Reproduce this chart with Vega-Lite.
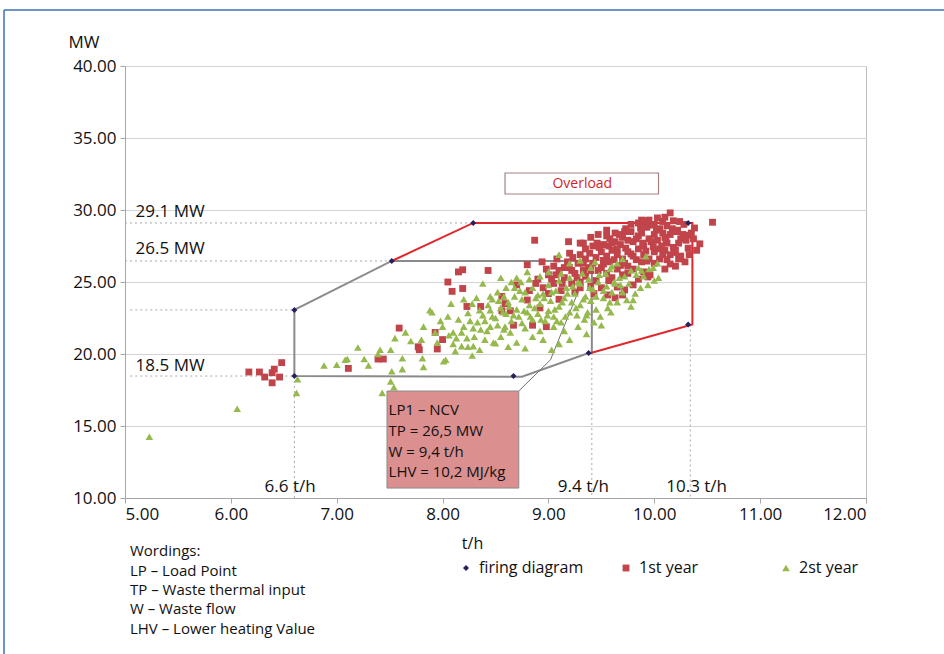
{
  "$schema": "https://vega.github.io/schema/vega-lite/v6.json",
  "width": 741,
  "height": 432,
  "autosize": {"type": "none"},
  "padding": {"left": 125, "top": 66, "right": 78, "bottom": 156},
  "background": "white",
  "config": {
    "view": {"stroke": "#bdbdbd", "strokeWidth": 1},
    "font": "Open Sans",
    "axis": {"labelFont": "Open Sans", "titleFont": "Open Sans", "labelColor": "#111", "titleColor": "#111", "titleFontWeight": "normal", "domainColor": "#a6a6a6", "tickColor": "#a6a6a6", "tickSize": 5, "labelFontSize": 17, "titleFontSize": 17}
  },
  "datasets": {
    "frame": [
      {"x": 3.857, "x2": 14.5, "y": 43.89, "y2": 43.89},
      {"x": 3.857, "x2": 3.857, "y": 43.89, "y2": -20}
    ],
    "dots": [
      {"x": 5, "x2": 8.29, "y": 29.1, "y2": 29.1},
      {"x": 5, "x2": 7.52, "y": 26.46, "y2": 26.46},
      {"x": 5.05, "x2": 6.6, "y": 23.06, "y2": 23.06},
      {"x": 5.05, "x2": 6.6, "y": 18.47, "y2": 18.47},
      {"x": 6.6, "x2": 6.6, "y": 18.47, "y2": 10},
      {"x": 9.41, "x2": 9.41, "y": 20.07, "y2": 10},
      {"x": 10.34, "x2": 10.34, "y": 22.05, "y2": 10}
    ],
    "gray": [
      {"x": 6.6, "y": 18.47, "o": 1},
      {"x": 6.6, "y": 23.06, "o": 2},
      {"x": 7.52, "y": 26.46, "o": 3},
      {"x": 9.41, "y": 26.46, "o": 4},
      {"x": 9.41, "y": 20.07, "o": 5},
      {"x": 9.38, "y": 20.07, "o": 6},
      {"x": 8.75, "y": 18.42, "o": 7},
      {"x": 6.6, "y": 18.47, "o": 8}
    ],
    "red": [
      {"x": 7.52, "y": 26.46, "o": 1},
      {"x": 8.29, "y": 29.1, "o": 2},
      {"x": 10.36, "y": 29.1, "o": 3},
      {"x": 10.36, "y": 22.05, "o": 4},
      {"x": 9.4, "y": 20.07, "o": 5}
    ],
    "pointer": [
      {"x": 8.72, "y": 17.43, "o": 1},
      {"x": 9.02, "y": 19.6, "o": 2},
      {"x": 9.39, "y": 26.3, "o": 3}
    ],
    "callout": [{"x": 7.475, "x2": 8.72, "y": 17.43, "y2": 10.69}],
    "callouttext": [
      {"x": 7.49, "y": 16.11, "t": "LP1 – NCV"},
      {"x": 7.49, "y": 14.65, "t": "TP = 26,5 MW"},
      {"x": 7.49, "y": 13.2, "t": "W = 9,4 t/h"},
      {"x": 7.49, "y": 11.78, "t": "LHV = 10,2 MJ/kg"}
    ],
    "overload": [{"x": 8.59, "x2": 10.04, "y": 32.57, "y2": 31.11}],
    "overloadtext": [{"x": 9.32, "y": 31.84, "t": "Overload"}],
    "leftlabels": [
      {"x": 5.1, "y": 29.86, "t": "29.1 MW"},
      {"x": 5.1, "y": 27.29, "t": "26.5 MW"},
      {"x": 5.1, "y": 19.17, "t": "18.5 MW"}
    ],
    "bottomlabels": [
      {"x": 6.56, "y": 10.76, "t": "6.6 t/h"},
      {"x": 9.33, "y": 10.76, "t": "9.4 t/h"},
      {"x": 10.4, "y": 10.76, "t": "10.3 t/h"}
    ],
    "wordings": [
      {"x": 5.047, "y": 6.32, "t": "Wordings:"},
      {"x": 5.047, "y": 4.93, "t": "LP – Load Point"},
      {"x": 5.047, "y": 3.6, "t": "TP – Waste thermal input"},
      {"x": 5.047, "y": 2.28, "t": "W – Waste flow"},
      {"x": 5.047, "y": 0.9, "t": "LHV – Lower heating Value"}
    ],
    "points": [
      {"x": 6.17, "y": 18.75, "s": "1st year"}, {"x": 6.27, "y": 18.75, "s": "1st year"}, {"x": 6.32, "y": 18.4, "s": "1st year"}, {"x": 6.39, "y": 18.7, "s": "1st year"}, {"x": 6.41, "y": 18.95, "s": "1st year"}, {"x": 6.46, "y": 18.4, "s": "1st year"}, {"x": 6.48, "y": 19.4, "s": "1st year"}, {"x": 6.39, "y": 18.0, "s": "1st year"},
      {"x": 7.11, "y": 19.0, "s": "1st year"}, {"x": 7.39, "y": 19.65, "s": "1st year"}, {"x": 7.44, "y": 19.65, "s": "1st year"}, {"x": 7.59, "y": 21.8, "s": "1st year"}, {"x": 7.77, "y": 20.5, "s": "1st year"}, {"x": 7.78, "y": 20.3, "s": "1st year"}, {"x": 7.95, "y": 20.35, "s": "1st year"}, {"x": 8.0, "y": 21.0, "s": "1st year"}, {"x": 7.93, "y": 21.5, "s": "1st year"},
      {"x": 8.05, "y": 25.0, "s": "1st year"}, {"x": 8.09, "y": 24.35, "s": "1st year"}, {"x": 8.15, "y": 25.7, "s": "1st year"}, {"x": 8.19, "y": 25.85, "s": "1st year"}, {"x": 8.19, "y": 24.55, "s": "1st year"}, {"x": 8.43, "y": 25.8, "s": "1st year"}, {"x": 8.87, "y": 27.9, "s": "1st year"}, {"x": 9.19, "y": 27.8, "s": "1st year"}, {"x": 9.3, "y": 27.7, "s": "1st year"},
      {"x": 8.23, "y": 23.3, "s": "1st year"}, {"x": 8.36, "y": 23.3, "s": "1st year"}, {"x": 8.56, "y": 24.0, "s": "1st year"}, {"x": 8.59, "y": 23.5, "s": "1st year"}, {"x": 8.56, "y": 23.0, "s": "1st year"}, {"x": 8.64, "y": 23.0, "s": "1st year"}, {"x": 8.7, "y": 24.8, "s": "1st year"}, {"x": 8.82, "y": 24.4, "s": "1st year"}, {"x": 8.8, "y": 26.2, "s": "1st year"}, {"x": 8.94, "y": 26.4, "s": "1st year"}, {"x": 9.08, "y": 26.6, "s": "1st year"}, {"x": 8.8, "y": 23.75, "s": "1st year"}, {"x": 8.92, "y": 23.2, "s": "1st year"}, {"x": 8.98, "y": 21.9, "s": "1st year"}, {"x": 8.85, "y": 22.0, "s": "1st year"}, {"x": 8.67, "y": 22.0, "s": "1st year"}, {"x": 9.2, "y": 27.0, "s": "1st year"}, {"x": 9.23, "y": 26.7, "s": "1st year"},
      {"x": 8.9, "y": 25.2, "s": "1st year"}, {"x": 8.95, "y": 24.6, "s": "1st year"}, {"x": 9.0, "y": 25.5, "s": "1st year"}, {"x": 9.05, "y": 24.9, "s": "1st year"}, {"x": 9.1, "y": 25.8, "s": "1st year"}, {"x": 9.12, "y": 24.4, "s": "1st year"}, {"x": 9.15, "y": 25.3, "s": "1st year"}, {"x": 9.2, "y": 26.0, "s": "1st year"}, {"x": 9.22, "y": 24.9, "s": "1st year"}, {"x": 9.25, "y": 25.6, "s": "1st year"}, {"x": 9.28, "y": 26.3, "s": "1st year"}, {"x": 9.3, "y": 25.0, "s": "1st year"}, {"x": 9.05, "y": 26.1, "s": "1st year"}, {"x": 8.98, "y": 25.9, "s": "1st year"}, {"x": 9.18, "y": 26.4, "s": "1st year"}, {"x": 9.1, "y": 23.8, "s": "1st year"}, {"x": 9.25, "y": 24.3, "s": "1st year"}, {"x": 9.0, "y": 24.2, "s": "1st year"}, {"x": 8.88, "y": 24.9, "s": "1st year"}, {"x": 9.35, "y": 25.4, "s": "1st year"}, {"x": 9.38, "y": 26.0, "s": "1st year"},
      {"x": 9.85, "y": 29.1, "s": "1st year"}, {"x": 9.95, "y": 29.3, "s": "1st year"}, {"x": 10.03, "y": 29.45, "s": "1st year"}, {"x": 10.15, "y": 29.8, "s": "1st year"}, {"x": 10.24, "y": 29.2, "s": "1st year"}, {"x": 10.55, "y": 29.15, "s": "1st year"}, {"x": 9.9, "y": 29.0, "s": "1st year"}, {"x": 10.0, "y": 29.0, "s": "1st year"}, {"x": 10.08, "y": 29.2, "s": "1st year"},
      {"x": 9.63, "y": 28.4, "s": "1st year"}, {"x": 9.72, "y": 28.5, "s": "1st year"}, {"x": 9.78, "y": 28.5, "s": "1st year"}, {"x": 9.87, "y": 28.75, "s": "1st year"}, {"x": 9.93, "y": 28.8, "s": "1st year"}, {"x": 9.98, "y": 28.95, "s": "1st year"}, {"x": 10.08, "y": 28.4, "s": "1st year"}, {"x": 10.15, "y": 28.3, "s": "1st year"}, {"x": 10.21, "y": 28.5, "s": "1st year"}, {"x": 10.22, "y": 28.6, "s": "1st year"}, {"x": 10.38, "y": 28.75, "s": "1st year"}, {"x": 10.32, "y": 28.25, "s": "1st year"}, {"x": 9.55, "y": 28.6, "s": "1st year"}, {"x": 10.05, "y": 28.7, "s": "1st year"}, {"x": 10.12, "y": 28.9, "s": "1st year"},
      {"x": 9.33, "y": 27.7, "s": "1st year"}, {"x": 9.46, "y": 27.7, "s": "1st year"}, {"x": 9.52, "y": 27.6, "s": "1st year"}, {"x": 9.6, "y": 27.7, "s": "1st year"}, {"x": 9.68, "y": 27.6, "s": "1st year"}, {"x": 9.8, "y": 27.8, "s": "1st year"}, {"x": 9.89, "y": 27.7, "s": "1st year"}, {"x": 10.03, "y": 27.9, "s": "1st year"}, {"x": 10.12, "y": 27.7, "s": "1st year"}, {"x": 10.18, "y": 27.4, "s": "1st year"}, {"x": 10.43, "y": 27.65, "s": "1st year"}, {"x": 10.32, "y": 27.35, "s": "1st year"}, {"x": 9.7, "y": 28.1, "s": "1st year"}, {"x": 9.85, "y": 28.2, "s": "1st year"}, {"x": 9.95, "y": 28.0, "s": "1st year"}, {"x": 10.0, "y": 28.3, "s": "1st year"}, {"x": 10.25, "y": 28.0, "s": "1st year"}, {"x": 9.58, "y": 28.0, "s": "1st year"}, {"x": 9.4, "y": 28.1, "s": "1st year"}, {"x": 9.75, "y": 27.9, "s": "1st year"}, {"x": 10.1, "y": 28.1, "s": "1st year"}, {"x": 9.9, "y": 27.5, "s": "1st year"}, {"x": 9.65, "y": 27.3, "s": "1st year"}, {"x": 10.07, "y": 27.5, "s": "1st year"},
      {"x": 9.39, "y": 27.0, "s": "1st year"}, {"x": 9.45, "y": 26.7, "s": "1st year"}, {"x": 9.5, "y": 27.1, "s": "1st year"}, {"x": 9.55, "y": 26.8, "s": "1st year"}, {"x": 9.6, "y": 27.2, "s": "1st year"}, {"x": 9.65, "y": 26.9, "s": "1st year"}, {"x": 9.7, "y": 26.6, "s": "1st year"}, {"x": 9.75, "y": 27.1, "s": "1st year"}, {"x": 9.8, "y": 26.8, "s": "1st year"}, {"x": 9.85, "y": 27.3, "s": "1st year"}, {"x": 9.9, "y": 26.9, "s": "1st year"}, {"x": 9.95, "y": 26.6, "s": "1st year"}, {"x": 10.0, "y": 27.1, "s": "1st year"}, {"x": 10.05, "y": 26.6, "s": "1st year"}, {"x": 10.1, "y": 27.2, "s": "1st year"}, {"x": 10.15, "y": 26.9, "s": "1st year"}, {"x": 10.2, "y": 27.2, "s": "1st year"}, {"x": 10.25, "y": 26.8, "s": "1st year"}, {"x": 10.29, "y": 26.4, "s": "1st year"}, {"x": 10.15, "y": 26.25, "s": "1st year"}, {"x": 9.35, "y": 26.6, "s": "1st year"}, {"x": 9.42, "y": 26.3, "s": "1st year"}, {"x": 9.58, "y": 26.4, "s": "1st year"}, {"x": 9.72, "y": 26.3, "s": "1st year"}, {"x": 9.88, "y": 26.4, "s": "1st year"}, {"x": 10.0, "y": 26.3, "s": "1st year"}, {"x": 9.3, "y": 26.9, "s": "1st year"}, {"x": 9.48, "y": 27.4, "s": "1st year"}, {"x": 9.62, "y": 26.55, "s": "1st year"}, {"x": 9.78, "y": 26.95, "s": "1st year"}, {"x": 9.92, "y": 27.15, "s": "1st year"}, {"x": 10.08, "y": 26.9, "s": "1st year"},
      {"x": 9.4, "y": 25.8, "s": "1st year"}, {"x": 9.5, "y": 26.0, "s": "1st year"}, {"x": 9.55, "y": 25.6, "s": "1st year"}, {"x": 9.65, "y": 25.9, "s": "1st year"}, {"x": 9.7, "y": 25.5, "s": "1st year"}, {"x": 9.8, "y": 25.9, "s": "1st year"}, {"x": 9.9, "y": 25.7, "s": "1st year"}, {"x": 9.96, "y": 25.5, "s": "1st year"}, {"x": 9.94, "y": 25.35, "s": "1st year"}, {"x": 9.75, "y": 26.1, "s": "1st year"}, {"x": 9.6, "y": 25.3, "s": "1st year"},
      {"x": 9.65, "y": 24.65, "s": "1st year"}, {"x": 9.72, "y": 24.45, "s": "1st year"}, {"x": 9.63, "y": 23.9, "s": "1st year"}, {"x": 9.8, "y": 24.8, "s": "1st year"}, {"x": 9.5, "y": 24.6, "s": "1st year"}, {"x": 9.45, "y": 25.1, "s": "1st year"},
      {"x": 9.35, "y": 27.3, "s": "1st year"}, {"x": 9.42, "y": 27.5, "s": "1st year"}, {"x": 9.52, "y": 26.5, "s": "1st year"}, {"x": 9.57, "y": 27.5, "s": "1st year"}, {"x": 9.67, "y": 28.3, "s": "1st year"}, {"x": 9.73, "y": 27.35, "s": "1st year"}, {"x": 9.83, "y": 28.0, "s": "1st year"}, {"x": 9.88, "y": 28.4, "s": "1st year"}, {"x": 9.97, "y": 27.8, "s": "1st year"}, {"x": 10.02, "y": 28.6, "s": "1st year"}, {"x": 10.11, "y": 27.95, "s": "1st year"}, {"x": 10.17, "y": 28.7, "s": "1st year"}, {"x": 10.19, "y": 27.05, "s": "1st year"}, {"x": 10.23, "y": 27.7, "s": "1st year"}, {"x": 10.27, "y": 28.3, "s": "1st year"}, {"x": 10.3, "y": 27.9, "s": "1st year"}, {"x": 10.35, "y": 28.4, "s": "1st year"}, {"x": 10.28, "y": 29.0, "s": "1st year"}, {"x": 10.18, "y": 29.25, "s": "1st year"}, {"x": 9.92, "y": 29.25, "s": "1st year"}, {"x": 9.78, "y": 29.0, "s": "1st year"}, {"x": 10.05, "y": 27.3, "s": "1st year"}, {"x": 9.93, "y": 26.45, "s": "1st year"}, {"x": 9.83, "y": 26.55, "s": "1st year"}, {"x": 9.68, "y": 26.15, "s": "1st year"}, {"x": 9.52, "y": 26.25, "s": "1st year"}, {"x": 9.47, "y": 25.8, "s": "1st year"}, {"x": 9.33, "y": 25.8, "s": "1st year"}, {"x": 9.27, "y": 25.3, "s": "1st year"}, {"x": 9.15, "y": 26.0, "s": "1st year"}, {"x": 9.07, "y": 25.5, "s": "1st year"}, {"x": 9.3, "y": 24.6, "s": "1st year"}, {"x": 9.4, "y": 24.7, "s": "1st year"}, {"x": 9.57, "y": 25.1, "s": "1st year"}, {"x": 9.75, "y": 25.6, "s": "1st year"}, {"x": 9.85, "y": 25.2, "s": "1st year"}, {"x": 10.1, "y": 25.9, "s": "1st year"}, {"x": 10.2, "y": 26.1, "s": "1st year"}, {"x": 10.23, "y": 26.6, "s": "1st year"}, {"x": 10.12, "y": 26.55, "s": "1st year"}, {"x": 9.99, "y": 27.45, "s": "1st year"}, {"x": 9.63, "y": 27.8, "s": "1st year"}, {"x": 9.55, "y": 28.2, "s": "1st year"}, {"x": 9.47, "y": 28.3, "s": "1st year"}, {"x": 9.73, "y": 28.7, "s": "1st year"}, {"x": 9.88, "y": 29.3, "s": "1st year"}, {"x": 10.1, "y": 29.5, "s": "1st year"}, {"x": 10.37, "y": 28.0, "s": "1st year"}, {"x": 10.4, "y": 27.2, "s": "1st year"}, {"x": 10.33, "y": 26.9, "s": "1st year"}, {"x": 9.03, "y": 25.2, "s": "1st year"}, {"x": 9.13, "y": 24.9, "s": "1st year"}, {"x": 9.22, "y": 25.8, "s": "1st year"}, {"x": 9.33, "y": 26.3, "s": "1st year"}, {"x": 9.43, "y": 24.2, "s": "1st year"}, {"x": 9.56, "y": 24.1, "s": "1st year"}, {"x": 9.7, "y": 24.1, "s": "1st year"},

      {"x": 5.23, "y": 14.25, "s": "2st year"}, {"x": 6.06, "y": 16.2, "s": "2st year"}, {"x": 6.62, "y": 17.3, "s": "2st year"}, {"x": 6.63, "y": 18.25, "s": "2st year"}, {"x": 6.88, "y": 19.2, "s": "2st year"}, {"x": 7.0, "y": 19.25, "s": "2st year"}, {"x": 7.1, "y": 19.65, "s": "2st year"}, {"x": 7.26, "y": 19.65, "s": "2st year"}, {"x": 7.2, "y": 20.45, "s": "2st year"}, {"x": 7.41, "y": 20.3, "s": "2st year"}, {"x": 7.51, "y": 20.3, "s": "2st year"}, {"x": 7.51, "y": 18.1, "s": "2st year"}, {"x": 7.54, "y": 17.7, "s": "2st year"}, {"x": 7.43, "y": 17.3, "s": "2st year"}, {"x": 7.08, "y": 19.6, "s": "2st year"}, {"x": 7.62, "y": 19.7, "s": "2st year"}, {"x": 7.62, "y": 18.95, "s": "2st year"}, {"x": 7.81, "y": 19.7, "s": "2st year"}, {"x": 7.82, "y": 19.1, "s": "2st year"}, {"x": 8.01, "y": 19.5, "s": "2st year"}, {"x": 7.39, "y": 20.0, "s": "2st year"}, {"x": 7.52, "y": 18.8, "s": "2st year"}, {"x": 7.55, "y": 21.1, "s": "2st year"},
      {"x": 7.88, "y": 23.05, "s": "2st year"}, {"x": 7.9, "y": 22.9, "s": "2st year"}, {"x": 7.82, "y": 21.9, "s": "2st year"}, {"x": 7.93, "y": 21.5, "s": "2st year"}, {"x": 8.0, "y": 21.9, "s": "2st year"}, {"x": 7.8, "y": 21.0, "s": "2st year"},
      {"x": 8.05, "y": 22.6, "s": "2st year"}, {"x": 8.1, "y": 21.5, "s": "2st year"}, {"x": 8.18, "y": 21.5, "s": "2st year"}, {"x": 8.29, "y": 21.8, "s": "2st year"}, {"x": 8.23, "y": 21.1, "s": "2st year"}, {"x": 8.3, "y": 21.2, "s": "2st year"}, {"x": 8.1, "y": 20.7, "s": "2st year"}, {"x": 8.18, "y": 20.55, "s": "2st year"}, {"x": 8.24, "y": 20.5, "s": "2st year"}, {"x": 8.29, "y": 20.55, "s": "2st year"}, {"x": 8.28, "y": 19.9, "s": "2st year"}, {"x": 8.03, "y": 19.6, "s": "2st year"}, {"x": 8.48, "y": 20.8, "s": "2st year"}, {"x": 8.5, "y": 20.75, "s": "2st year"}, {"x": 8.7, "y": 20.8, "s": "2st year"}, {"x": 8.95, "y": 21.0, "s": "2st year"}, {"x": 9.03, "y": 20.3, "s": "2st year"}, {"x": 8.38, "y": 24.9, "s": "2st year"}, {"x": 8.8, "y": 25.7, "s": "2st year"}, {"x": 9.1, "y": 26.9, "s": "2st year"}, {"x": 8.24, "y": 22.85, "s": "2st year"}, {"x": 8.35, "y": 23.05, "s": "2st year"}, {"x": 8.45, "y": 23.05, "s": "2st year"}, {"x": 8.45, "y": 21.9, "s": "2st year"}, {"x": 8.59, "y": 21.9, "s": "2st year"}, {"x": 8.75, "y": 22.15, "s": "2st year"},
      {"x": 8.5, "y": 22.5, "s": "2st year"}, {"x": 8.55, "y": 23.2, "s": "2st year"}, {"x": 8.6, "y": 22.8, "s": "2st year"}, {"x": 8.62, "y": 23.6, "s": "2st year"}, {"x": 8.65, "y": 22.3, "s": "2st year"}, {"x": 8.68, "y": 24.0, "s": "2st year"}, {"x": 8.7, "y": 23.1, "s": "2st year"}, {"x": 8.72, "y": 22.6, "s": "2st year"}, {"x": 8.75, "y": 23.8, "s": "2st year"}, {"x": 8.78, "y": 24.3, "s": "2st year"}, {"x": 8.8, "y": 22.9, "s": "2st year"}, {"x": 8.82, "y": 23.4, "s": "2st year"}, {"x": 8.85, "y": 22.4, "s": "2st year"}, {"x": 8.85, "y": 24.6, "s": "2st year"}, {"x": 8.88, "y": 23.9, "s": "2st year"}, {"x": 8.9, "y": 22.8, "s": "2st year"}, {"x": 8.92, "y": 23.5, "s": "2st year"}, {"x": 8.95, "y": 24.2, "s": "2st year"}, {"x": 8.97, "y": 22.3, "s": "2st year"}, {"x": 9.0, "y": 23.0, "s": "2st year"}, {"x": 9.0, "y": 24.8, "s": "2st year"}, {"x": 9.02, "y": 23.7, "s": "2st year"}, {"x": 9.05, "y": 22.6, "s": "2st year"}, {"x": 9.07, "y": 24.4, "s": "2st year"}, {"x": 9.1, "y": 23.3, "s": "2st year"}, {"x": 9.1, "y": 25.1, "s": "2st year"}, {"x": 9.12, "y": 22.2, "s": "2st year"}, {"x": 9.15, "y": 23.9, "s": "2st year"}, {"x": 9.17, "y": 24.6, "s": "2st year"}, {"x": 9.2, "y": 22.9, "s": "2st year"}, {"x": 9.2, "y": 25.3, "s": "2st year"}, {"x": 9.22, "y": 23.6, "s": "2st year"}, {"x": 9.25, "y": 24.2, "s": "2st year"}, {"x": 9.27, "y": 22.7, "s": "2st year"}, {"x": 9.3, "y": 24.9, "s": "2st year"}, {"x": 9.3, "y": 23.4, "s": "2st year"}, {"x": 9.32, "y": 25.6, "s": "2st year"}, {"x": 9.35, "y": 24.0, "s": "2st year"}, {"x": 9.37, "y": 22.9, "s": "2st year"}, {"x": 9.38, "y": 25.2, "s": "2st year"}, {"x": 9.4, "y": 23.7, "s": "2st year"}, {"x": 9.4, "y": 26.0, "s": "2st year"}, {"x": 9.42, "y": 24.5, "s": "2st year"},
      {"x": 8.58, "y": 21.7, "s": "2st year"}, {"x": 8.64, "y": 21.5, "s": "2st year"}, {"x": 8.78, "y": 21.8, "s": "2st year"}, {"x": 8.92, "y": 21.6, "s": "2st year"}, {"x": 9.05, "y": 21.9, "s": "2st year"}, {"x": 9.15, "y": 21.6, "s": "2st year"}, {"x": 9.28, "y": 21.9, "s": "2st year"}, {"x": 9.36, "y": 21.4, "s": "2st year"}, {"x": 9.2, "y": 21.0, "s": "2st year"}, {"x": 9.1, "y": 20.7, "s": "2st year"}, {"x": 8.85, "y": 21.2, "s": "2st year"},
      {"x": 8.4, "y": 22.3, "s": "2st year"}, {"x": 8.42, "y": 21.6, "s": "2st year"}, {"x": 8.47, "y": 23.8, "s": "2st year"}, {"x": 8.52, "y": 24.3, "s": "2st year"}, {"x": 8.6, "y": 24.6, "s": "2st year"}, {"x": 8.65, "y": 25.0, "s": "2st year"}, {"x": 8.7, "y": 25.3, "s": "2st year"}, {"x": 8.38, "y": 22.7, "s": "2st year"}, {"x": 8.33, "y": 22.2, "s": "2st year"},
      {"x": 9.45, "y": 23.1, "s": "2st year"}, {"x": 9.49, "y": 22.6, "s": "2st year"}, {"x": 9.52, "y": 23.9, "s": "2st year"}, {"x": 9.56, "y": 23.2, "s": "2st year"}, {"x": 9.6, "y": 24.3, "s": "2st year"}, {"x": 9.65, "y": 23.6, "s": "2st year"}, {"x": 9.62, "y": 25.0, "s": "2st year"}, {"x": 9.68, "y": 24.8, "s": "2st year"}, {"x": 9.74, "y": 23.75, "s": "2st year"}, {"x": 9.8, "y": 23.75, "s": "2st year"}, {"x": 9.72, "y": 25.4, "s": "2st year"}, {"x": 9.78, "y": 25.8, "s": "2st year"}, {"x": 9.85, "y": 26.0, "s": "2st year"}, {"x": 9.87, "y": 24.6, "s": "2st year"}, {"x": 9.94, "y": 24.8, "s": "2st year"}, {"x": 10.03, "y": 26.3, "s": "2st year"}, {"x": 10.04, "y": 25.3, "s": "2st year"}, {"x": 9.99, "y": 26.0, "s": "2st year"}, {"x": 9.9, "y": 25.4, "s": "2st year"}, {"x": 9.82, "y": 24.2, "s": "2st year"}, {"x": 9.55, "y": 24.7, "s": "2st year"}, {"x": 9.48, "y": 25.5, "s": "2st year"}, {"x": 9.58, "y": 25.9, "s": "2st year"}, {"x": 9.65, "y": 26.3, "s": "2st year"}, {"x": 9.36, "y": 22.7, "s": "2st year"}, {"x": 9.5, "y": 22.0, "s": "2st year"}, {"x": 9.44, "y": 26.4, "s": "2st year"}, {"x": 9.7, "y": 26.6, "s": "2st year"}, {"x": 9.92, "y": 26.8, "s": "2st year"}, {"x": 9.6, "y": 26.1, "s": "2st year"},
      {"x": 8.08, "y": 23.5, "s": "2st year"}, {"x": 8.15, "y": 22.4, "s": "2st year"}, {"x": 8.2, "y": 23.8, "s": "2st year"}, {"x": 8.28, "y": 23.5, "s": "2st year"}, {"x": 8.12, "y": 20.2, "s": "2st year"}, {"x": 8.35, "y": 20.3, "s": "2st year"}, {"x": 8.4, "y": 21.0, "s": "2st year"}, {"x": 8.55, "y": 21.2, "s": "2st year"}, {"x": 8.62, "y": 20.5, "s": "2st year"}, {"x": 8.78, "y": 20.4, "s": "2st year"}, {"x": 7.98, "y": 22.3, "s": "2st year"}, {"x": 8.45, "y": 24.0, "s": "2st year"}, {"x": 8.55, "y": 25.3, "s": "2st year"},
      {"x": 8.52, "y": 22.0, "s": "2st year"}, {"x": 8.57, "y": 22.9, "s": "2st year"}, {"x": 8.63, "y": 23.3, "s": "2st year"}, {"x": 8.67, "y": 22.7, "s": "2st year"}, {"x": 8.73, "y": 24.4, "s": "2st year"}, {"x": 8.77, "y": 23.0, "s": "2st year"}, {"x": 8.83, "y": 22.6, "s": "2st year"}, {"x": 8.87, "y": 23.2, "s": "2st year"}, {"x": 8.9, "y": 24.1, "s": "2st year"}, {"x": 8.93, "y": 22.4, "s": "2st year"}, {"x": 8.96, "y": 23.9, "s": "2st year"}, {"x": 8.99, "y": 22.7, "s": "2st year"}, {"x": 9.03, "y": 24.3, "s": "2st year"}, {"x": 9.06, "y": 23.1, "s": "2st year"}, {"x": 9.08, "y": 22.3, "s": "2st year"}, {"x": 9.13, "y": 23.6, "s": "2st year"}, {"x": 9.16, "y": 22.6, "s": "2st year"}, {"x": 9.18, "y": 24.2, "s": "2st year"}, {"x": 9.23, "y": 24.7, "s": "2st year"}, {"x": 9.26, "y": 23.2, "s": "2st year"}, {"x": 9.28, "y": 25.0, "s": "2st year"}, {"x": 9.33, "y": 23.8, "s": "2st year"}, {"x": 9.34, "y": 22.4, "s": "2st year"}, {"x": 9.39, "y": 24.6, "s": "2st year"}, {"x": 9.45, "y": 24.0, "s": "2st year"}, {"x": 9.47, "y": 25.0, "s": "2st year"}, {"x": 9.52, "y": 24.4, "s": "2st year"}, {"x": 9.54, "y": 25.6, "s": "2st year"}, {"x": 9.58, "y": 23.6, "s": "2st year"}, {"x": 9.63, "y": 24.9, "s": "2st year"}, {"x": 9.67, "y": 25.3, "s": "2st year"}, {"x": 9.7, "y": 24.3, "s": "2st year"}, {"x": 9.76, "y": 24.9, "s": "2st year"}, {"x": 9.83, "y": 25.5, "s": "2st year"}, {"x": 9.88, "y": 25.8, "s": "2st year"}, {"x": 9.95, "y": 25.9, "s": "2st year"}, {"x": 10.0, "y": 25.1, "s": "2st year"}, {"x": 9.78, "y": 23.3, "s": "2st year"}, {"x": 9.59, "y": 22.9, "s": "2st year"}, {"x": 9.43, "y": 22.2, "s": "2st year"}, {"x": 8.47, "y": 22.6, "s": "2st year"}, {"x": 8.43, "y": 23.4, "s": "2st year"}, {"x": 8.36, "y": 21.7, "s": "2st year"}, {"x": 8.32, "y": 23.9, "s": "2st year"}, {"x": 8.26, "y": 22.3, "s": "2st year"}, {"x": 8.53, "y": 23.7, "s": "2st year"}, {"x": 8.58, "y": 24.0, "s": "2st year"}, {"x": 8.68, "y": 24.6, "s": "2st year"}, {"x": 8.74, "y": 25.0, "s": "2st year"}, {"x": 8.82, "y": 25.2, "s": "2st year"}, {"x": 8.92, "y": 25.4, "s": "2st year"}, {"x": 9.0, "y": 25.7, "s": "2st year"}, {"x": 9.12, "y": 25.6, "s": "2st year"}, {"x": 9.2, "y": 26.3, "s": "2st year"}, {"x": 9.3, "y": 26.5, "s": "2st year"}, {"x": 8.2, "y": 21.9, "s": "2st year"}, {"x": 8.13, "y": 21.1, "s": "2st year"}, {"x": 8.06, "y": 21.3, "s": "2st year"}, {"x": 7.95, "y": 20.8, "s": "2st year"}, {"x": 7.7, "y": 20.9, "s": "2st year"}, {"x": 7.65, "y": 21.5, "s": "2st year"}, {"x": 7.3, "y": 19.2, "s": "2st year"},

      {"x": 6.6, "y": 23.06, "s": "firing diagram"}, {"x": 6.6, "y": 18.47, "s": "firing diagram"}, {"x": 7.52, "y": 26.46, "s": "firing diagram"}, {"x": 8.29, "y": 29.1, "s": "firing diagram"}, {"x": 10.32, "y": 29.1, "s": "firing diagram"}, {"x": 10.32, "y": 22.05, "s": "firing diagram"}, {"x": 9.38, "y": 20.07, "s": "firing diagram"}, {"x": 8.67, "y": 18.47, "s": "firing diagram"}
    ]
  },
  "encoding": {
    "x": {"field": "x", "type": "quantitative",
      "scale": {"domain": [5, 12], "nice": false, "zero": false},
      "axis": {"values": [5, 6, 7, 8, 9, 10, 11, 12], "format": ".2f", "grid": false, "labelPadding": 3, "labelFontSize": 17,
        "title": "t/h", "titleX": 347, "titleY": 45, "titleBaseline": "middle", "titleAnchor": "start", "titleAlign": "center", "titleFontSize": 16}},
    "y": {"field": "y", "type": "quantitative",
      "scale": {"domain": [10, 40], "nice": false, "zero": false},
      "axis": {"values": [10, 15, 20, 25, 30, 35, 40], "format": ".2f", "grid": true, "gridColor": "#d4d4d4", "labelPadding": 4, "labelFontSize": 17,
        "title": "MW", "titleAngle": 0, "titleX": -57, "titleY": -24, "titleAlign": "left", "titleBaseline": "middle", "titleAnchor": "start", "titleFontSize": 17}}
  },
  "layer": [
    {"data": {"name": "frame"}, "mark": {"type": "rule", "color": "#3d72b8", "strokeWidth": 1.5, "clip": false},
      "encoding": {"x2": {"field": "x2"}, "y2": {"field": "y2"}}},
    {"data": {"name": "dots"}, "mark": {"type": "rule", "color": "#a8a8a8", "strokeWidth": 1, "strokeDash": [2, 3]},
      "encoding": {"x2": {"field": "x2"}, "y2": {"field": "y2"}}},
    {"data": {"name": "gray"}, "mark": {"type": "line", "color": "#8a8a8a", "strokeWidth": 2},
      "encoding": {"order": {"field": "o"}}},
    {"data": {"name": "red"}, "mark": {"type": "line", "color": "#e3262b", "strokeWidth": 2},
      "encoding": {"order": {"field": "o"}}},
    {"data": {"name": "pointer"}, "mark": {"type": "line", "color": "#707070", "strokeWidth": 1},
      "encoding": {"order": {"field": "o"}}},
    {"data": {"name": "points"},
      "mark": {"type": "point", "filled": true, "opacity": 1, "strokeWidth": 0},
      "encoding": {
        "color": {"field": "s", "type": "nominal",
          "scale": {"domain": ["firing diagram", "1st year", "2st year"], "range": ["#252060", "#c0444a", "#96b94e"]},
          "legend": {"title": null, "orient": "none", "legendX": 333, "legendY": 494, "direction": "horizontal", "columns": 3, "gridAlign": "all", "columnPadding": 34,
            "labelFont": "Open Sans", "labelFontSize": 16, "labelColor": "#111", "labelOffset": 5, "padding": 0, "symbolStrokeWidth": 0}},
        "shape": {"field": "s", "type": "nominal",
          "scale": {"domain": ["firing diagram", "1st year", "2st year"], "range": ["diamond", "square", "triangle-up"]}},
        "size": {"field": "s", "type": "nominal",
          "scale": {"domain": ["firing diagram", "1st year", "2st year"], "range": [36, 58, 48]}}
      }},
    {"data": {"name": "callout"}, "mark": {"type": "rect", "fill": "#db8f8f", "stroke": "#8a8a8a", "strokeWidth": 1},
      "encoding": {"x2": {"field": "x2"}, "y2": {"field": "y2"}}},
    {"data": {"name": "callouttext"}, "mark": {"type": "text", "align": "left", "baseline": "middle", "font": "Open Sans", "fontSize": 15, "color": "#111"},
      "encoding": {"text": {"field": "t"}}},
    {"data": {"name": "overload"}, "mark": {"type": "rect", "fill": "white", "stroke": "#a58080", "strokeWidth": 1.2},
      "encoding": {"x2": {"field": "x2"}, "y2": {"field": "y2"}}},
    {"data": {"name": "overloadtext"}, "mark": {"type": "text", "align": "center", "baseline": "middle", "font": "Open Sans", "fontSize": 14, "color": "#d41f26"},
      "encoding": {"text": {"field": "t"}}},
    {"data": {"name": "leftlabels"}, "mark": {"type": "text", "align": "left", "baseline": "middle", "font": "Open Sans", "fontSize": 17, "color": "#111"},
      "encoding": {"text": {"field": "t"}}},
    {"data": {"name": "bottomlabels"}, "mark": {"type": "text", "align": "center", "baseline": "middle", "font": "Open Sans", "fontSize": 17, "color": "#111"},
      "encoding": {"text": {"field": "t"}}},
    {"data": {"name": "wordings"}, "mark": {"type": "text", "align": "left", "baseline": "middle", "font": "Open Sans", "fontSize": 15, "color": "#111", "clip": false},
      "encoding": {"text": {"field": "t"}}}
  ]
}
